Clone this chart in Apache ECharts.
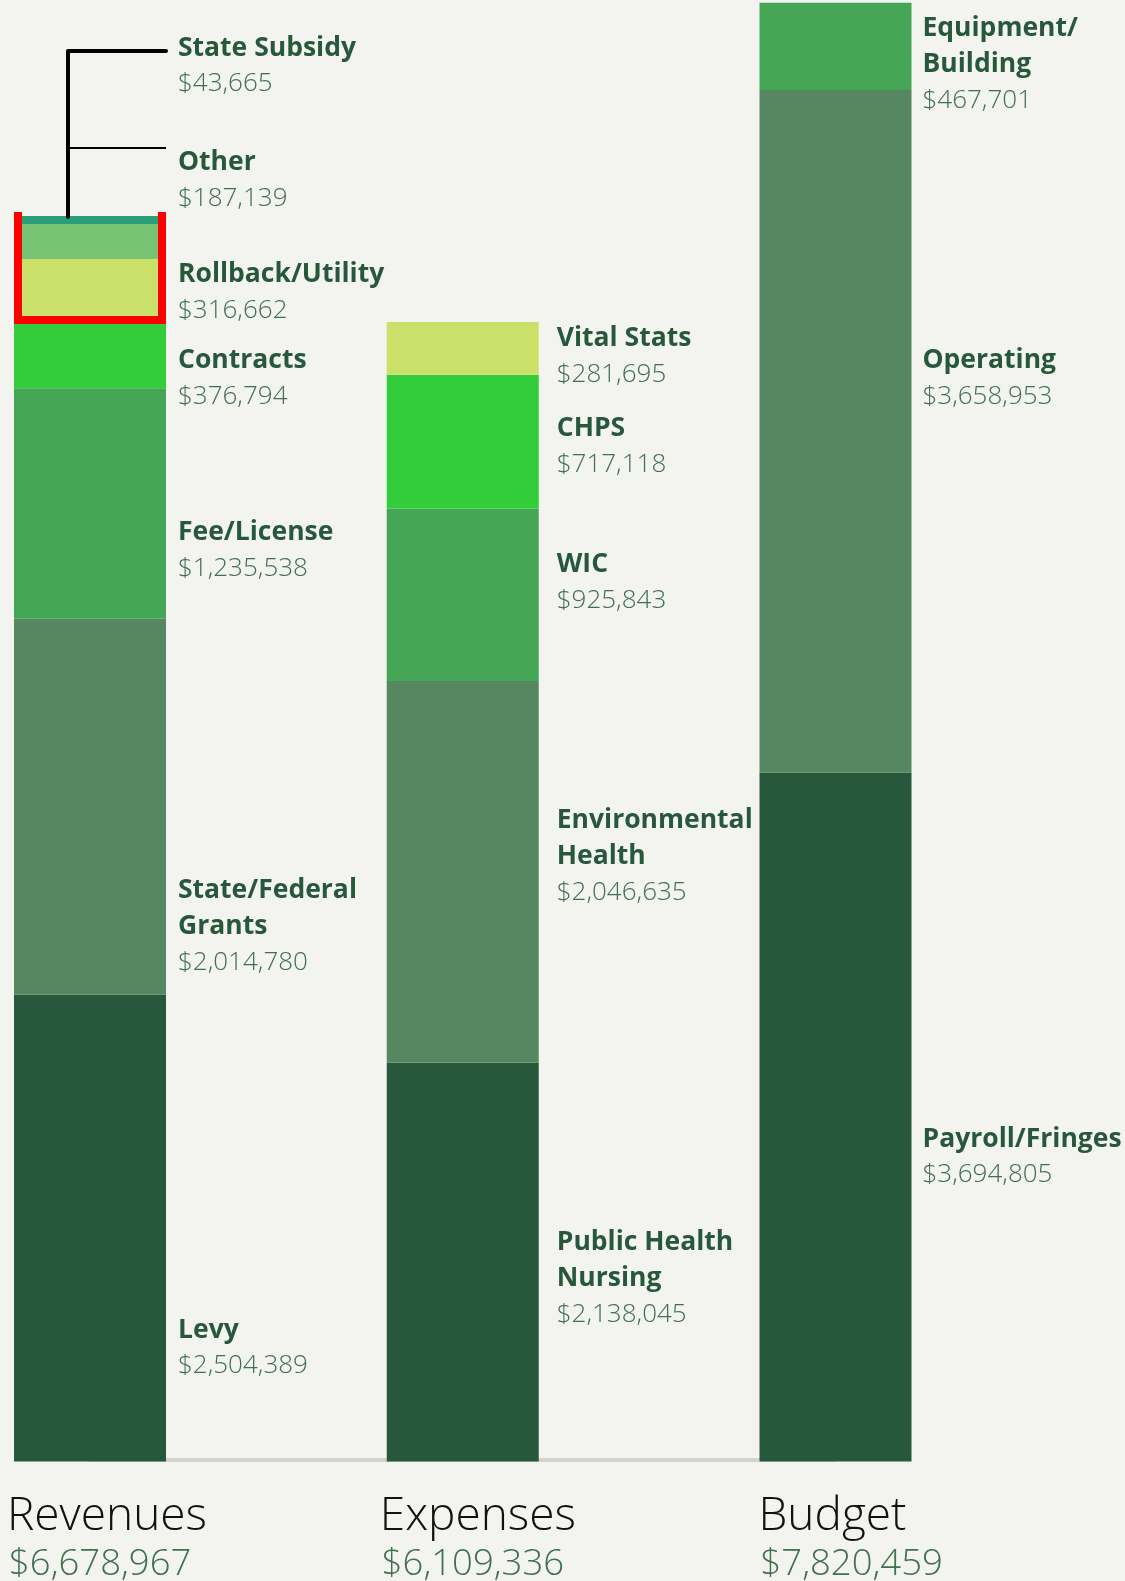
<!DOCTYPE html>
<html>
<head>
<meta charset="utf-8">
<script src="https://cdn.jsdelivr.net/npm/echarts@6/dist/echarts.min.js"></script>
<style>
  html, body { margin: 0; padding: 0; background: #f3f4ef; }
  #chart { width: 1125px; height: 1581px; }
</style>
</head>
<body>
<div id="chart"></div>
<script>
const columns = ['Revenues', 'Expenses', 'Budget'];
// totals as printed under the bars
const columnTotals = [6678967, 6109336, 7820459];

// each column is stacked bottom to top
const revenueNames = ['Levy', 'State/Federal\nGrants', 'Fee/License', 'Contracts', 'Rollback/Utility', 'Other', 'State Subsidy'];
const revenueValues = [2504389, 2014780, 1235538, 376794, 316662, 187139, 43665];

const expenseNames = ['Public Health\nNursing', 'Environmental\nHealth', 'WIC', 'CHPS', 'Vital Stats'];
const expenseValues = [2138045, 2046635, 925843, 717118, 281695];

const budgetNames = ['Payroll/Fringes', 'Operating', 'Equipment/\nBuilding'];
const budgetValues = [3694805, 3658953, 467701];

// one colour per stack layer
const layerColors = ['#27583b', '#568760', '#45a755', '#33cc3b', '#cbe068', '#77c474', '#2a9e78'];

// label nudges in px, the original does not centre them on the segments
const revenueShift = [120, 120, 47, 25, 4, -61, -154];
const expenseShift = [16, -15, -12, 5, 8];
const budgetShift = [40, -53, 18];
const labelGap = [12, 18, 11];
const titleNudge = [-7, -7, -1];

const BAR_W = 152;
const groups = [
  { names: revenueNames, values: revenueValues, shift: revenueShift },
  { names: expenseNames, values: expenseValues, shift: expenseShift },
  { names: budgetNames, values: budgetValues, shift: budgetShift }
];
const stackTops = groups.map(g => g.values.reduce((a, b) => a + b, 0));
const fmt = v => '$' + v.toLocaleString('en-US');

const chart = echarts.init(document.getElementById('chart'));

const barSeries = layerColors.map((color, layer) => ({
  type: 'bar',
  stack: 'total',
  barWidth: BAR_W,
  clip: false,
  itemStyle: { color },
  label: {
    show: false,
    rich: {
      n: { fontFamily: 'Open Sans', fontWeight: 'bold', fontSize: 26.5, color: '#27583b', lineHeight: 36 },
      v: { fontFamily: 'Open Sans', fontWeight: 300, fontSize: 26, color: '#41704f', lineHeight: 36 }
    }
  },
  emphasis: { disabled: true },
  data: groups.map((g, col) => {
    if (layer >= g.values.length) return '-';
    const text = g.names[layer].split('\n').map(s => '{n|' + s + '}').join('\n') +
      '\n{v|' + fmt(g.values[layer]) + '}';
    return {
      value: g.values[layer],
      label: {
        show: true,
        position: 'right',
        distance: labelGap[col],
        offset: [0, g.shift[layer]],
        formatter: text
      }
    };
  })
}));

// titles under the bars plus the red/black callouts on the revenue column
const annotations = {
  type: 'custom',
  z: 10,
  silent: true,
  data: columns.map((c, i) => [i, stackTops[i]]),
  renderItem(params, api) {
    const col = params.dataIndex;
    const base = api.coord([col, 0]);
    const top = api.coord([col, api.value(1)]);
    const left = base[0] - BAR_W / 2;
    const right = base[0] + BAR_W / 2;
    const children = [
      {
        type: 'text',
        style: {
          text: columns[col], x: left + titleNudge[col], y: base[1] + 55,
          fontFamily: 'Open Sans', fontWeight: 300, fontSize: 46, fill: '#111',
          verticalAlign: 'middle'
        }
      },
      {
        type: 'text',
        style: {
          text: fmt(columnTotals[col]), x: left + titleNudge[col] + 2, y: base[1] + 103,
          fontFamily: 'Open Sans', fontWeight: 300, fontSize: 36.5, fill: '#41704f',
          verticalAlign: 'middle'
        }
      }
    ];
    if (col === 0) {
      const boxBottom = api.coord([col, revenueValues.slice(0, 4).reduce((a, b) => a + b, 0)])[1];
      const lx = left + 54;
      children.push(
        {
          type: 'polyline',
          shape: { points: [[left + 4, top[1] - 4], [left + 4, boxBottom + 2], [right - 4, boxBottom + 2], [right - 4, top[1] - 4]] },
          style: { stroke: '#ff0000', lineWidth: 8, fill: null, lineJoin: 'miter' }
        },
        {
          type: 'polyline',
          shape: { points: [[lx, top[1] + 1], [lx, top[1] - 165], [right, top[1] - 165]] },
          style: { stroke: '#000', lineWidth: 4, fill: null, lineCap: 'round', lineJoin: 'round' }
        },
        {
          type: 'line',
          shape: { x1: lx, y1: top[1] - 68, x2: right, y2: top[1] - 68 },
          style: { stroke: '#000', lineWidth: 2 }
        }
      );
    }
    return { type: 'group', children };
  }
};

const option = {
  backgroundColor: '#f3f4ef',
  animation: false,
  grid: { left: 90, right: 289.5, top: 3, bottom: 119.5 },
  xAxis: {
    type: 'category',
    data: columns,
    boundaryGap: false,
    offset: -2,
    axisLine: { lineStyle: { color: '#d3d3cf', width: 4 } },
    axisTick: { show: false },
    axisLabel: { show: false }
  },
  yAxis: {
    type: 'value',
    min: 0,
    max: columnTotals[2],
    show: false,
    splitLine: { show: false }
  },
  series: [...barSeries, annotations]
};

chart.setOption(option);
</script>
</body>
</html>
